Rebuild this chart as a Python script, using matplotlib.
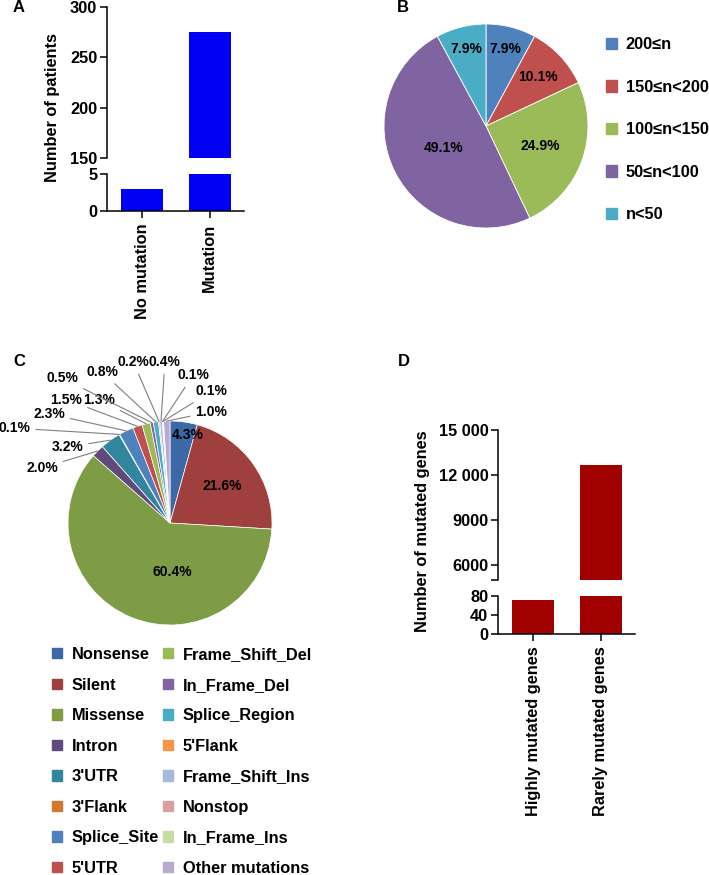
import numpy as np
import matplotlib
matplotlib.use("Agg")
import matplotlib.pyplot as plt
from matplotlib.patches import Patch

plt.rcParams['font.family'] = ['Liberation Sans', 'DejaVu Sans']
plt.rcParams['font.weight'] = 'bold'
plt.rcParams['axes.linewidth'] = 1.1

# data
cat_a = ['No mutation', 'Mutation']
patients = [3, 275]

range_labels = ['200≤n', '150≤n<200', '100≤n<150', '50≤n<100', 'n<50']
range_pct = [7.9, 10.1, 24.9, 49.1, 7.9]
range_colors = ['#4F81BD', '#C0504D', '#9BBB59', '#8064A2', '#4BACC6']

mut_types = ['Nonsense', 'Silent', 'Missense', 'Intron', "3'UTR", "3'Flank",
             'Splice_Site', "5'UTR", 'Frame_Shift_Del', 'In_Frame_Del',
             'Splice_Region', "5'Flank", 'Frame_Shift_Ins', 'Nonstop',
             'In_Frame_Ins', 'Other mutations']
mut_pct = [4.3, 21.6, 60.4, 2.0, 3.2, 0.1, 2.3, 1.5, 1.3, 0.5, 0.8, 0.2, 0.4,
           0.1, 0.1, 1.0]
mut_colors = ['#3D68A6', '#A0403E', '#7E9C46', '#604A7B', '#31859C', '#D0782F',
              '#4F81BD', '#C0504D', '#9BBB59', '#8064A2', '#4BACC6', '#F79646',
              '#A5B9DE', '#D9A0A0', '#C9DCA6', '#B8AACF']

gene_groups = ['Highly mutated genes', 'Rarely mutated genes']
gene_counts = [72, 12650]

W, H = 709, 875
fig = plt.figure(figsize=(W / 100, H / 100), dpi=100)


def box(x0, y0, x1, y1):
    # pixel box (top-left origin) -> figure fraction
    return [x0 / W, 1 - y1 / H, (x1 - x0) / W, (y1 - y0) / H]


def style_ax(ax):
    ax.spines['top'].set_visible(False)
    ax.spines['right'].set_visible(False)
    ax.tick_params(axis='both', labelsize=11.8, length=5, width=1.1, pad=2)


def broken_bars(top_box, low_box, cats, vals, color, top_lim, low_lim,
                top_ticks, top_labels, low_ticks):
    ax_t = fig.add_axes(box(*top_box))
    ax_l = fig.add_axes(box(*low_box))
    x = np.arange(len(cats))
    for ax in (ax_t, ax_l):
        ax.bar(x, vals, width=0.62, color=color)
        ax.set_xlim(-0.52, 1.51)
        style_ax(ax)
    ax_t.set_ylim(*top_lim)
    ax_l.set_ylim(*low_lim)
    ax_t.spines['bottom'].set_visible(False)
    ax_t.set_xticks([])
    ax_t.set_yticks(top_ticks)
    ax_t.set_yticklabels(top_labels)
    ax_l.set_yticks(low_ticks)
    ax_l.set_xticks(x)
    ax_l.set_xticklabels(cats, rotation=90)
    ax_l.tick_params(axis='x', pad=4)
    return ax_t, ax_l


# Panel A
broken_bars((107, 7, 244, 158), (107, 174, 244, 211), cat_a, patients,
            '#0000F5', (150, 300), (0, 5), [150, 200, 250, 300],
            ['150', '200', '250', '300'], [0, 5])
fig.text(53 / W, 1 - 108 / H, 'Number of patients', rotation=90,
         ha='center', va='center', fontsize=11.8)

# Panel D
broken_bars((498, 430, 635, 580), (498, 596, 635, 634), gene_groups,
            gene_counts, '#A00000', (5000, 15000), (0, 80),
            [5000, 6000, 9000, 12000, 15000],
            ['', '6000', '9000', '12 000', '15 000'], [0, 40, 80])
fig.text(422 / W, 1 - 531 / H, 'Number of mutated genes', rotation=90,
         ha='center', va='center', fontsize=11.8)

# Panel B
ax_b = fig.add_axes(box(384, 24, 588, 228))
wedges_b, _ = ax_b.pie(range_pct, colors=range_colors, startangle=90,
                       counterclock=False,
                       wedgeprops=dict(edgecolor='white', linewidth=0.6))
ax_b.set_xlim(-1, 1)
ax_b.set_ylim(-1, 1)
label_r_b = [0.78, 0.70, 0.57, 0.47, 0.78]
for w, p, r in zip(wedges_b, range_pct, label_r_b):
    ang = np.deg2rad((w.theta1 + w.theta2) / 2)
    ax_b.text(r * np.cos(ang), r * np.sin(ang), '%.1f%%' % p,
              ha='center', va='center', fontsize=10)
fig.legend(handles=[Patch(color=c, label=l) for c, l in zip(range_colors, range_labels)],
           loc='upper left', bbox_to_anchor=(606 / W, 1 - 37 / H),
           frameon=False, fontsize=11.8, handlelength=0.7, handleheight=0.7,
           handletextpad=0.5, labelspacing=1.68, borderpad=0, borderaxespad=0)

# Panel C
ax_c = fig.add_axes(box(68, 421, 272, 625))
wedges_c, _ = ax_c.pie(mut_pct, colors=mut_colors, startangle=90,
                       counterclock=False,
                       wedgeprops=dict(edgecolor='white', linewidth=0.5))
ax_c.set_xlim(-1, 1)
ax_c.set_ylim(-1, 1)
# label anchor (x, y, ha) in pie radius units
label_pos_c = [(0.17, 0.86, 'center'), (0.51, 0.36, 'center'),
               (0.02, -0.48, 'center'), (-1.10, 0.54, 'right'),
               (-0.85, 0.745, 'right'), (-1.37, 0.93, 'right'),
               (-1.03, 1.07, 'right'), (-0.86, 1.21, 'right'),
               (-0.54, 1.21, 'right'), (-0.90, 1.42, 'right'),
               (-0.51, 1.48, 'right'), (-0.36, 1.58, 'center'),
               (-0.05, 1.58, 'center'), (0.07, 1.45, 'left'),
               (0.25, 1.29, 'left'), (0.25, 1.09, 'left')]
for i, (w, p, (lx, ly, ha)) in enumerate(zip(wedges_c, mut_pct, label_pos_c)):
    txt = '%.1f%%' % p
    if i < 3:
        ax_c.text(lx, ly, txt, ha='center', va='center', fontsize=10)
        continue
    ang = np.deg2rad((w.theta1 + w.theta2) / 2)
    ax_c.annotate(txt, xy=(np.cos(ang), np.sin(ang)), xytext=(lx, ly),
                  ha=ha, va='center', fontsize=10, annotation_clip=False,
                  arrowprops=dict(arrowstyle='-', color='#7F7F7F', lw=0.8,
                                  shrinkA=2, shrinkB=0))
fig.legend(handles=[Patch(color=c, label=l) for c, l in zip(mut_colors, mut_types)],
           loc='upper left', bbox_to_anchor=(52 / W, 1 - 647 / H), ncol=2,
           frameon=False, fontsize=11.8, handlelength=0.6, handleheight=0.6,
           handletextpad=0.6, labelspacing=0.95, columnspacing=0.25,
           borderpad=0, borderaxespad=0)

# panel letters
for lab, (px, py) in zip('ABCD', [(13, 8), (397, 8), (13, 362), (398, 362)]):
    fig.text(px / W, 1 - py / H, lab, ha='left', va='center', fontsize=12)

fig.savefig('out.png', dpi=100)
